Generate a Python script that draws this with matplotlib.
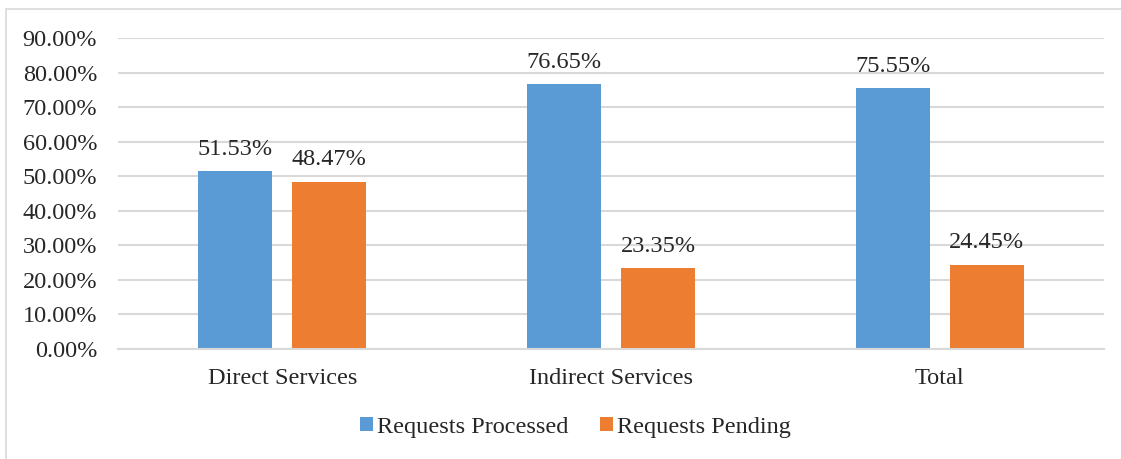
import numpy as np
import matplotlib.pyplot as plt
from matplotlib.patches import Rectangle

categories = ["Direct Services", "Indirect Services", "Total"]
processed = [51.53, 76.65, 75.55]
pending = [48.47, 23.35, 24.45]
series_names = ["Requests Processed", "Requests Pending"]

blue = "#5B9BD5"
orange = "#ED7D31"
txt = "#262626"
fs = 17.5

plt.rcParams['font.family'] = ['Liberation Serif', 'DejaVu Serif']

fig = plt.figure(figsize=(11.21, 4.59), dpi=100)
ax = fig.add_axes([118/1121, 1-349/459, (1104-118)/1121, (349-38)/459])

# chart border like excel
fig.patches.append(Rectangle((6/1121, -0.1), 1.2, 1-9/459+0.1, transform=fig.transFigure,
                             fill=False, edgecolor="#D9D9D9", linewidth=1.2))

x = np.arange(len(categories))
w = 0.225
b1 = ax.bar(x - 0.143, processed, w, color=blue, label=series_names[0])
b2 = ax.bar(x + 0.143, pending, w, color=orange, label=series_names[1])

for bars, vals in [(b1, processed), (b2, pending)]:
    for r, v in zip(bars, vals):
        ax.annotate("%.2f%%" % v, (r.get_x() + r.get_width()/2, v), xytext=(0, 8),
                    textcoords="offset points", ha="center", va="bottom", fontsize=fs, color=txt)

ax.set_xlim(-0.5, 2.5)
ax.set_ylim(0, 90)
ax.set_yticks(np.arange(0, 91, 10))
ax.set_yticklabels(["%.2f%%" % t for t in np.arange(0, 91, 10)], fontsize=fs, color=txt)
ax.set_xticks(x)
ax.set_xticklabels(categories, fontsize=fs, color=txt)
ax.tick_params(axis="both", length=0)
ax.tick_params(axis="x", pad=14)
ax.tick_params(axis="y", pad=15)
ax.grid(axis="y", color="#D9D9D9", linewidth=1.5)
ax.set_axisbelow(True)
for s in ["top", "right", "left"]:
    ax.spines[s].set_visible(False)
ax.spines["bottom"].set_color("#D9D9D9")
ax.spines["bottom"].set_linewidth(1.5)

fig.legend(loc="center", bbox_to_anchor=(575/1121, 1-427/459), ncol=2, frameon=False,
           fontsize=fs, handlelength=0.55, handleheight=0.55, handletextpad=0.15, columnspacing=1.3,
           labelcolor=txt)

plt.savefig("out.png", dpi=100)
